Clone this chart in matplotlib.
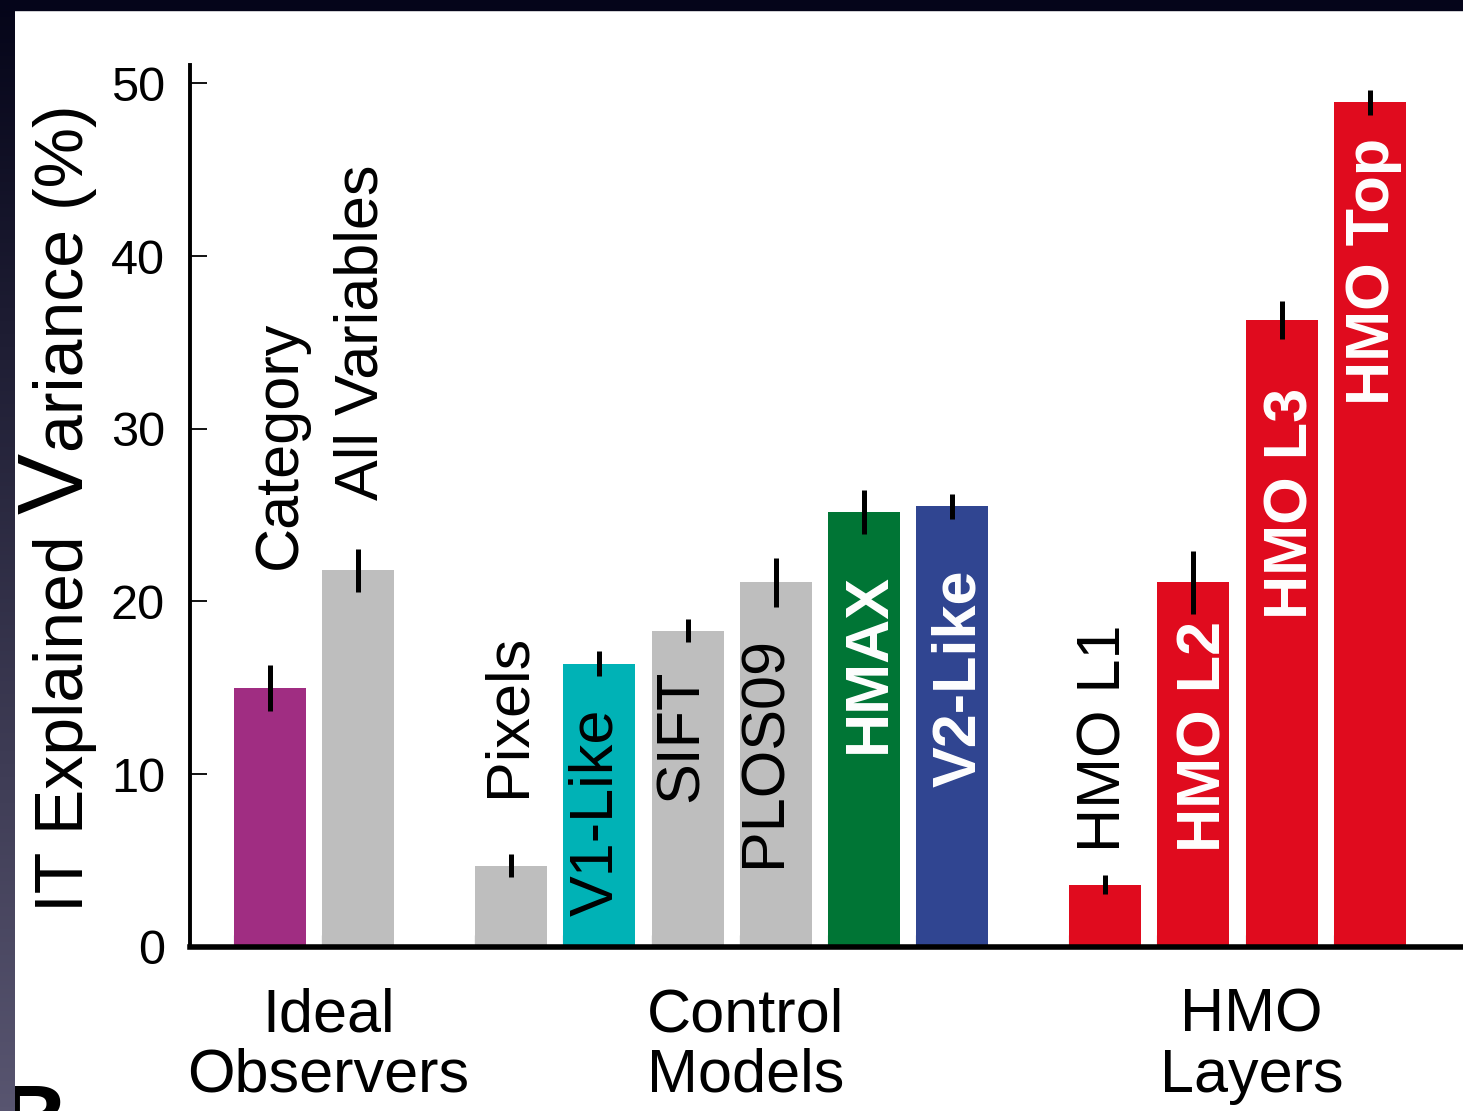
import numpy as np
import matplotlib
matplotlib.use('Agg')
import matplotlib.pyplot as plt
from matplotlib.patches import Rectangle
from matplotlib.transforms import blended_transform_factory

plt.rcParams['font.family'] = ['Liberation Sans', 'DejaVu Sans']

#===[DATA]===#
names = ['Category', 'All Variables',
         'Pixels', 'V1-Like', 'SIFT', 'PLOS09', 'HMAX', 'V2-Like',
         'HMO L1', 'HMO L2', 'HMO L3', 'HMO Top']
groups = ['Ideal\nObservers', 'Control\nModels', 'HMO\nLayers']
group_of = [0, 0, 1, 1, 1, 1, 1, 1, 2, 2, 2, 2]
variance = [15.0, 21.8, 4.7, 16.4, 18.3, 21.1, 25.2, 25.5, 3.6, 21.1, 36.3, 48.9]  # IT explained variance (%)
variance_err = [1.33, 1.25, 0.67, 0.72, 0.67, 1.42, 1.27, 0.70, 0.55, 1.82, 1.10, 0.72]
yticks = [0, 10, 20, 30, 40, 50]

#===[STYLE]===#
purple, grey, teal, green, blue, red = '#A02D82', '#BEBEBE', '#00B2B6', '#007535', '#304591', '#E00B1E'
bar_colors = [purple, grey, grey, teal, grey, grey, green, blue, red, red, red, red]
on_bar = [False, False, False, False, False, False, True, True, False, True, True, True]  # white bold label
label_dx = [0.295, 0.215, 0.156, 0.143, 0.118, 0.048, 0.238, 0.258, 0.175, 0.308, 0.295, 0.213]
label_y0 = [21.9, 25.9, 8.7, 1.8, 8.4, 4.6, 11.2, 9.25, 5.5, 5.5, 19.0, 31.4]

W, H = 1463, 1111
width = 0.816
positions = np.arange(len(names)) + np.array(group_of) * 0.735

fig = plt.figure(figsize=(W / 100, H / 100), dpi=100)
fig.patch.set_facecolor('white')

ax = fig.add_axes([190 / W, 1 - 946.8 / H, 1 - 190 / W, (946.8 - 65) / H])
ax.bar(positions, variance, width=width, color=bar_colors, zorder=2)
ax.errorbar(positions, variance, yerr=variance_err, fmt='none', ecolor='black',
            elinewidth=3.6, capsize=0, zorder=3)

ax.set_xlim(-0.907, 13.526)
ax.set_ylim(0, 51.06)
ax.set_yticks(yticks)
ax.set_yticklabels([str(t) for t in yticks], fontsize=35)
ax.set_xticks(positions - width / 2)
ax.set_xticklabels([])
ax.tick_params(axis='y', direction='in', length=12, width=1.3, pad=18)
ax.tick_params(axis='x', direction='in', length=9, width=0.8, color='#444444')
for s in ['top', 'right']:
    ax.spines[s].set_visible(False)
ax.spines['left'].set_linewidth(2.8)
ax.spines['bottom'].set_linewidth(4)
ax.spines['left'].set_zorder(4)
ax.spines['bottom'].set_zorder(4)
ax.patch.set_alpha(0)

# names written up the bars
for p, v, n, dx, y0, inside in zip(positions, variance, names, label_dx, label_y0, on_bar):
    ax.text(p + dx, y0, n, rotation=90, rotation_mode='anchor', ha='left', va='baseline',
            fontsize=44, color='white' if inside else 'black',
            fontweight='bold' if inside else 'normal', zorder=4)

# group names under the axis
tr = blended_transform_factory(ax.transData, fig.transFigure)
for g, label in enumerate(groups):
    gx = positions[np.array(group_of) == g].mean() + 0.16
    for line, fy in zip(label.split('\n'), [1 - 1031 / H, 1 - 1092 / H]):
        ax.text(gx, fy, line, transform=tr, ha='center', va='baseline', fontsize=44, clip_on=False)

# y label, with the big V
kw = dict(rotation=90, rotation_mode='anchor', ha='left', va='baseline', annotation_clip=False)
t1 = ax.annotate('IT Explained', xy=(83, H - 912), xycoords='figure pixels', fontsize=49, **kw)
t2 = ax.annotate('V', xy=(83, 1.0), xycoords=('figure pixels', t1), xytext=(0, 15),
                 textcoords='offset points', fontsize=66, **kw)
t3 = ax.annotate('ariance (%)', xy=(83, 1.0), xycoords=('figure pixels', t2), xytext=(0, 1),
                 textcoords='offset points', fontsize=49, **kw)

# next panel letter peeking in at the bottom
fig.text(0, -40 / H, 'B', fontsize=68, fontweight='bold', ha='left', va='baseline')

# dark frame on the top and left
bax = fig.add_axes([0, 0, 15 / W, 1])
grad = np.linspace(0, 1, 256)[:, None, None]
top_c = np.array([5, 5, 25]) / 255
bot_c = np.array([88, 85, 112]) / 255
bax.imshow(top_c + grad * (bot_c - top_c), aspect='auto', extent=[0, 1, 0, 1])
bax.axis('off')
bax.set_zorder(10)
fig.add_artist(Rectangle((0, 1 - 10 / H), 1, 10 / H, transform=fig.transFigure,
                         color='#05051a', zorder=11))

fig.savefig('out.png', dpi=100)
